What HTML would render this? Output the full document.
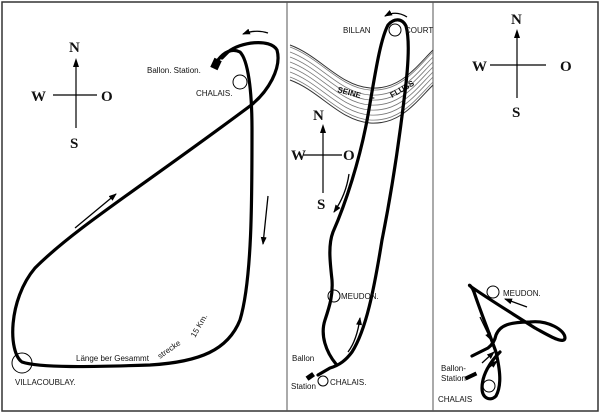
<!DOCTYPE html>
<html><head><meta charset="utf-8"><style>
html,body{margin:0;padding:0;background:#fff;}
svg{display:block;}
text{font-family:"Liberation Sans",sans-serif;fill:#111;}
.s{font-family:"Liberation Serif",serif;font-weight:bold;font-size:15px;}
.l{font-size:8px;}
.t{fill:none;stroke:#000;stroke-width:3.2;stroke-linecap:round;stroke-linejoin:round;}
.a{fill:none;stroke:#000;stroke-width:1.3;}
.c{stroke:#000;stroke-width:1;fill:none;}
</style></head><body>
<svg width="600" height="414" viewBox="0 0 600 414" xmlns="http://www.w3.org/2000/svg">
<defs>
<marker id="ah" markerWidth="8" markerHeight="6" refX="7" refY="3" orient="auto" markerUnits="userSpaceOnUse"><path d="M0,0 L8,3 L0,6 z" fill="#000"/></marker>
<pattern id="h" width="3" height="3" patternUnits="userSpaceOnUse" patternTransform="rotate(45)"><line x1="0" y1="0" x2="0" y2="3" stroke="#888" stroke-width="1"/></pattern>
</defs>
<rect x="2" y="2" width="596" height="409" fill="none" stroke="#333" stroke-width="1.5"/>
<line x1="287" y1="2" x2="287" y2="411" stroke="#555" stroke-width="1"/>
<line x1="433" y1="2" x2="433" y2="411" stroke="#555" stroke-width="1"/>

<!-- Panel 1 -->
<text class="s" x="69" y="52">N</text>
<line x1="76" y1="62" x2="76" y2="128" stroke="#000" stroke-width="1.2"/>
<path d="M73,67 L76,58 L79,67z"/>
<line x1="53" y1="95" x2="97" y2="95" stroke="#000" stroke-width="1.2"/>
<text class="s" x="31" y="101">W</text>
<text class="s" x="101" y="101">O</text>
<text class="s" x="70" y="148">S</text>
<path class="t" d="M218,60 C224,52 232,48 240,52 C248,60 252,90 252,130 C252,200 252,280 240,320 C228,350 200,362 150,365 C90,367 40,368 22,362 C8,352 8,300 35,268 C75,228 140,188 250,106 C268,92 282,68 277,50 C270,38 240,42 228,52 L222,58"/>
<rect x="212" y="59" width="8" height="10" transform="rotate(25 216 64)" fill="#000"/>
<circle cx="240" cy="82" r="7" fill="url(#h)" class="c"/>
<circle cx="22" cy="363" r="10" fill="url(#h)" class="c"/>
<text class="l" x="147" y="73">Ballon. Station.</text>
<text class="l" x="196" y="96">CHALAIS.</text>
<text class="l" x="15" y="385">VILLACOUBLAY.</text>
<text class="l" x="76" y="361" font-size="9" fill="#444">Länge ber Gesammt</text>
<text class="l" x="160" y="359" font-size="9" fill="#444" transform="rotate(-35 160 359)">strecke</text>
<text class="l" x="195" y="338" font-size="9" fill="#444" transform="rotate(-60 195 338)">15 Km.</text>
<line class="a" x1="75" y1="228" x2="116" y2="194" marker-end="url(#ah)"/>
<line class="a" x1="268" y1="196" x2="263" y2="244" marker-end="url(#ah)"/>
<path class="a" d="M268,33 Q256,29 243,34" marker-end="url(#ah)"/>

<!-- Panel 2 -->
<g fill="none" stroke="#777" stroke-width="0.8">
<path d="M290,47 C320,58 340,88 370,90 C400,92 415,70 433,52"/>
<path d="M290,52 C320,63 340,93 370,95 C400,97 415,75 433,57"/>
<path d="M290,57 C320,68 340,98 370,100 C400,102 415,80 433,62"/>
<path d="M290,62 C320,73 340,103 370,105 C400,107 415,85 433,67"/>
<path d="M290,67 C320,78 340,108 370,110 C400,112 415,90 433,72"/>
<path d="M290,72 C320,83 340,113 370,115 C400,117 415,95 433,77"/>
<path d="M290,77 C320,88 340,118 370,120 C400,122 415,100 433,82"/>
</g>
<path d="M290,45 C320,56 340,86 370,88 C400,90 415,68 433,50" fill="none" stroke="#333" stroke-width="1"/>
<path d="M290,80 C320,91 340,121 370,123 C400,125 415,103 433,85" fill="none" stroke="#333" stroke-width="1"/>
<text class="l" x="337" y="92" font-size="9" font-weight="bold" transform="rotate(15 337 92)">SEINE</text>
<text class="l" x="372" y="100" font-size="9" font-weight="bold">-</text>
<text class="l" x="392" y="98" font-size="9" font-weight="bold" transform="rotate(-30 392 98)">FLUSS</text>
<text class="s" x="313" y="120" font-size="13">N</text>
<line x1="323" y1="128" x2="323" y2="193" stroke="#000" stroke-width="1.2"/>
<path d="M320,133 L323,124 L326,133z"/>
<line x1="303" y1="155" x2="342" y2="155" stroke="#000" stroke-width="1.2"/>
<text class="s" x="291" y="160" font-size="13">W</text>
<text class="s" x="343" y="160" font-size="13">O</text>
<text class="s" x="317" y="209" font-size="13">S</text>
<path class="t" d="M336,364 C326,352 320,335 325,320 C330,305 333,295 332,280 C330,262 328,245 333,232 C345,205 360,160 368,115 C375,75 380,40 388,25 C394,18 402,18 406,26 C410,40 408,70 404,100 C398,150 390,200 382,240 C374,290 366,330 352,352 C346,360 340,365 330,368 L318,375"/>
<rect x="306" y="374" width="8" height="5" transform="rotate(-35 310 376)" fill="#000"/>
<circle cx="395" cy="30" r="6" fill="url(#h)" class="c"/>
<circle cx="334" cy="296" r="6" fill="url(#h)" class="c"/>
<circle cx="323" cy="381" r="5" class="c"/>
<text class="l" x="343" y="33">BILLAN</text>
<text class="l" x="405" y="33">COURT</text>
<text class="l" x="341" y="299">MEUDON.</text>
<text class="l" x="292" y="361" font-size="7">Ballon</text>
<text class="l" x="291" y="389" font-size="7">Station</text>
<text class="l" x="330" y="385">CHALAIS.</text>
<path class="a" d="M407,17 Q396,10 385,16" marker-end="url(#ah)"/>
<path class="a" d="M349,174 Q346,195 334,212" marker-end="url(#ah)"/>
<path class="a" d="M348,352 Q357,340 360,318" marker-end="url(#ah)"/>

<!-- Panel 3 -->
<text class="s" x="511" y="24" font-size="13">N</text>
<line x1="517" y1="33" x2="517" y2="98" stroke="#000" stroke-width="1.2"/>
<path d="M514,38 L517,29 L520,38z"/>
<line x1="490" y1="65" x2="546" y2="65" stroke="#000" stroke-width="1.2"/>
<text class="s" x="472" y="71" font-size="13">W</text>
<text class="s" x="560" y="71" font-size="13">O</text>
<text class="s" x="512" y="117" font-size="13">S</text>
<path class="t" d="M472,356 L488,348 C492,345 495,340 496,335 C500,325 510,322 530,322 C548,320 565,330 565,338 C564,345 548,335 535,328 C510,312 490,300 470,286 C468,284 472,286 474,292 C480,310 488,330 496,352 C500,370 502,385 496,396 C490,402 482,398 482,388 C482,375 490,362 500,352 L498,354"/>
<rect x="465" y="374" width="12" height="4" transform="rotate(-25 471 376)" fill="#000"/>
<circle cx="493" cy="292" r="6" fill="url(#h)" class="c"/>
<circle cx="489" cy="386" r="6" fill="url(#h)" class="c"/>
<text class="l" x="503" y="296">MEUDON.</text>
<text class="l" x="441" y="371" font-size="7">Ballon-</text>
<text class="l" x="441" y="381" font-size="7">Station</text>
<text class="l" x="438" y="402">CHALAIS</text>
<line class="a" x1="527" y1="307" x2="505" y2="299" marker-end="url(#ah)"/>
<line class="a" x1="480" y1="317" x2="491" y2="340" marker-end="url(#ah)"/>
<line class="a" x1="482" y1="363" x2="494" y2="352" marker-end="url(#ah)"/>
<line class="a" x1="486" y1="370" x2="497" y2="361" marker-end="url(#ah)"/>
</svg>
</body></html>
